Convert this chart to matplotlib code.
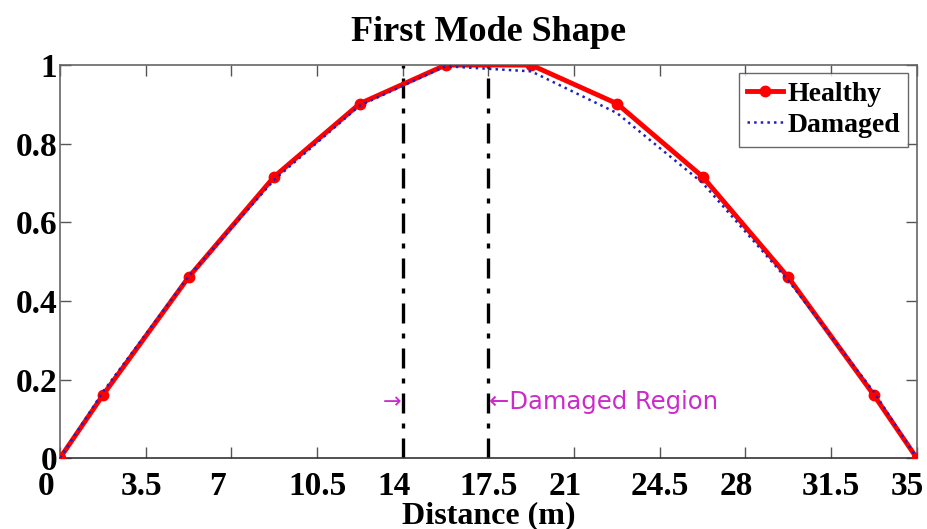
import numpy as np
import matplotlib
matplotlib.use("Agg")
import matplotlib.pyplot as plt
import matplotlib.transforms as mtransforms
from matplotlib import rcParams

rcParams["font.family"] = ["Liberation Serif", "DejaVu Serif"]
rcParams["font.weight"] = "bold"

# 数据
distance = [0, 1.75, 5.25, 8.75, 12.25, 15.75, 19.25, 22.75, 26.25, 29.75, 33.25, 35]
healthy = [0, 0.160, 0.460, 0.716, 0.902, 1.0, 1.0, 0.902, 0.716, 0.460, 0.160, 0]
damaged = [0, 0.168, 0.462, 0.708, 0.897, 0.997, 0.984, 0.878, 0.700, 0.452, 0.168, 0]
region = [14, 17.5]
xticks = [0, 3.5, 7, 10.5, 14, 17.5, 21, 24.5, 28, 31.5, 35]
xticklabels = ["0", "3.5", "7", "10.5", "14", "17.5", "21", "24.5", "28", "31.5", "35"]
yticks = [0, 0.2, 0.4, 0.6, 0.8, 1]
yticklabels = ["0", "0.2", "0.4", "0.6", "0.8", "1"]

fig = plt.figure(figsize=(9.27, 5.29), dpi=100)
ax = fig.add_axes([0.0647, 0.134, 0.9243, 0.743])

ax.plot(distance, healthy, "-o", color="#ff0000", lw=3.5, ms=7.5, label="Healthy", zorder=3)
ax.plot(distance, damaged, ":", color="#2020c0", lw=1.8, label="Damaged", zorder=4)

for xv in region:
    ax.axvline(xv, color="black", ls="-.", lw=2.4, dashes=(6, 3, 1.5, 3), zorder=2)

magenta = "#cc2acc"
ax.text(region[0] - 0.05, 0.142, "\u2192", color=magenta, fontsize=16, ha="right", va="center",
        family=["DejaVu Sans"], fontweight="normal")
ax.text(region[1] + 0.02, 0.142, "\u2190Damaged Region", color=magenta, fontsize=17.5, ha="left", va="center",
        family=["DejaVu Sans"], fontweight="normal")

ax.set_xlim(0, 35)
ax.set_ylim(0, 1)
ax.tick_params(direction="in", length=8, width=1, top=True, right=True, labelsize=24, pad=2,
               colors="#555555", labelcolor="black")
ax.tick_params(axis="x", pad=9)
ax.set_xticks(xticks)
ax.set_xticklabels(xticklabels)
ax.set_yticks(yticks)
ax.set_yticklabels(yticklabels)
# MATLAB 风格：短标签略偏左
for lab in ax.get_xticklabels():
    dx = -(4 - len(lab.get_text())) * 4.5 / 100.0
    lab.set_transform(lab.get_transform() + mtransforms.ScaledTranslation(dx, 0, fig.dpi_scale_trans))

for s in ax.spines.values():
    s.set_color("#666666")
    s.set_linewidth(1.2)
ax.spines["bottom"].set_color("#333333")

ax.set_title("First Mode Shape", fontsize=26, fontweight="bold", pad=17)
ax.set_xlabel("Distance (m)", fontsize=23, fontweight="bold", labelpad=0)

leg = ax.legend(loc="upper right", handlelength=1.3, handletextpad=0.15,
                borderpad=0.3, labelspacing=0.2, fancybox=False, edgecolor="#444444",
                borderaxespad=0.3, prop={"weight": "bold", "size": 20})
leg.get_frame().set_linewidth(1.0)

fig.savefig("out.png", dpi=100)
